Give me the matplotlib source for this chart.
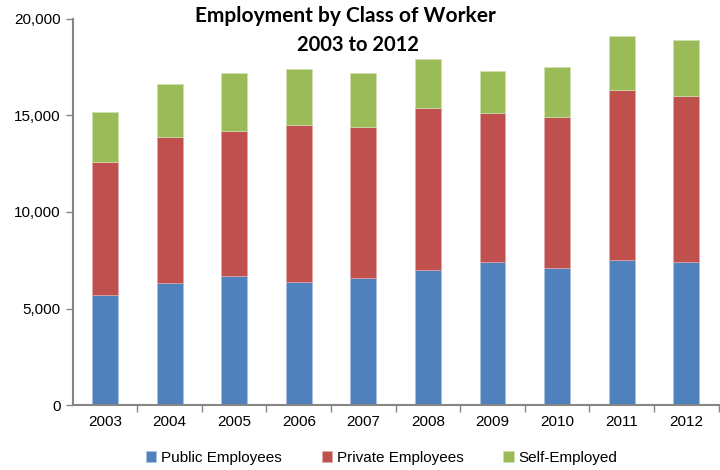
"""Employment by class of worker, stacked bars 2003-2012."""
import matplotlib
matplotlib.use("Agg")
import matplotlib.pyplot as plt
import matplotlib.ticker as mticker

years = ["2003", "2004", "2005", "2006", "2007", "2008", "2009", "2010", "2011", "2012"]
public = [5700, 6300, 6700, 6400, 6600, 7000, 7400, 7100, 7500, 7400]
private = [6900, 7600, 7500, 8100, 7800, 8400, 7700, 7800, 8800, 8600]
self_employed = [2600, 2700, 3000, 2900, 2800, 2500, 2200, 2600, 2800, 2900]

BLUE = "#4F81BD"
RED = "#C0504D"
GREEN = "#9BBB59"
AXIS = "#868686"

plt.rcParams["font.family"] = ["Liberation Sans", "DejaVu Sans"]

fig = plt.figure(figsize=(7.2, 4.7), dpi=100)
ax = fig.add_axes([0.101, 0.138, 0.897, 0.822])

x = range(len(years))
w = 0.4
bottom2 = [a + b for a, b in zip(public, private)]
ax.bar(x, public, w, color=BLUE, edgecolor="#a9c0de", linewidth=0.5, label="Public Employees")
ax.bar(x, private, w, bottom=public, color=RED, edgecolor="#e0a8a6", linewidth=0.5,
       label="Private Employees")
ax.bar(x, self_employed, w, bottom=bottom2, color=GREEN, edgecolor="#cfe0ad", linewidth=0.5,
       label="Self-Employed")

ax.set_xlim(-0.5, len(years) - 0.5)
ax.set_ylim(0, 20000)
ax.set_yticks(range(0, 20001, 5000))
ax.yaxis.set_major_formatter(mticker.FuncFormatter(lambda v, p: f"{int(v):,}"))
ax.set_xticks(list(x))
ax.set_xticklabels(years)
ax.set_xticks([i + 0.5 for i in range(len(years))], minor=True)
ax.tick_params(axis="x", which="major", length=0, labelsize=11, pad=7)
ax.tick_params(axis="x", which="minor", length=5, color=AXIS, width=1)
ax.tick_params(axis="y", length=5, color=AXIS, width=1, labelsize=11)

for s in ("top", "right"):
    ax.spines[s].set_visible(False)
for s in ("left", "bottom"):
    ax.spines[s].set_color(AXIS)
    ax.spines[s].set_linewidth(1.5)

fig.text(0.48, 0.965, "Employment by Class of Worker", ha="center", va="center",
         fontsize=15, fontweight="bold", family=["Lato", "DejaVu Sans"])
fig.text(0.497, 0.905, "2003 to 2012", ha="center", va="center",
         fontsize=14.5, fontweight="bold", family=["Lato", "DejaVu Sans"])

fig.legend(loc="center", bbox_to_anchor=(0.53, 0.026), ncol=3, frameon=False,
           fontsize=11, handlelength=0.7, handleheight=0.7, handletextpad=0.3,
           columnspacing=2.6)

fig.savefig("out.png", dpi=100)
